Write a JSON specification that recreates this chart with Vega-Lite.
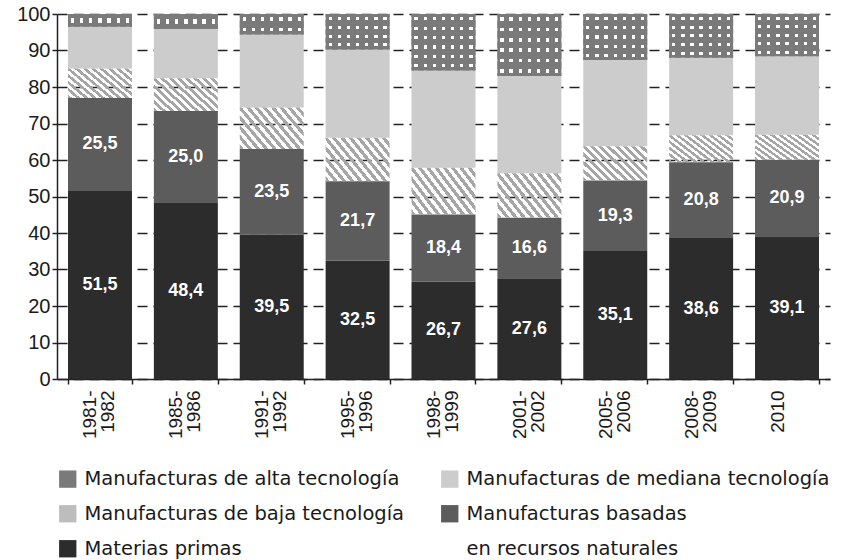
{
  "$schema": "https://vega.github.io/schema/vega-lite/v6.json",
  "width": 773,
  "height": 365,
  "autosize": {"type": "none"},
  "padding": {"left": 57, "top": 14, "right": 14, "bottom": 181},
  "background": "white",
  "config": {
    "view": {"stroke": null},
    "locale": {"number": {"decimal": ",", "thousands": ".", "grouping": [3], "currency": ["", ""]}},
    "axis": {"labelFont": "Liberation Sans", "labelColor": "#1a1a1a", "domainColor": "#222222", "tickColor": "#222222", "title": null},
    "axisY": {
      "tickCount": 10, "labelOverlap": false, "labelFontSize": 20, "labelPadding": 2, "tickSize": 5, "tickWidth": 1.5, "domainWidth": 1.5,
      "grid": true, "gridColor": "#222222", "gridWidth": 1.6, "gridDash": [10, 6]
    },
    "axisX": {
      "labelAngle": -90, "labelFontSize": 19, "labelLineHeight": 18, "labelPadding": 6, "labelOverlap": false, "labelOffset": -10,
      "tickBand": "extent", "tickSize": 5, "tickWidth": 1.5, "domainWidth": 1.5, "grid": false
    }
  },
  "data": {
    "values": [
      {"periodo": "1981-1982", "serie": "Materias primas", "valor": 51.5},
      {"periodo": "1981-1982", "serie": "Manufacturas basadas en recursos naturales", "valor": 25.5},
      {"periodo": "1981-1982", "serie": "Manufacturas de baja tecnología", "valor": 8.1},
      {"periodo": "1981-1982", "serie": "Manufacturas de mediana tecnología", "valor": 11.4},
      {"periodo": "1981-1982", "serie": "Manufacturas de alta tecnología", "valor": 3.5},
      {"periodo": "1985-1986", "serie": "Materias primas", "valor": 48.4},
      {"periodo": "1985-1986", "serie": "Manufacturas basadas en recursos naturales", "valor": 25.0},
      {"periodo": "1985-1986", "serie": "Manufacturas de baja tecnología", "valor": 9.0},
      {"periodo": "1985-1986", "serie": "Manufacturas de mediana tecnología", "valor": 13.5},
      {"periodo": "1985-1986", "serie": "Manufacturas de alta tecnología", "valor": 4.1},
      {"periodo": "1991-1992", "serie": "Materias primas", "valor": 39.5},
      {"periodo": "1991-1992", "serie": "Manufacturas basadas en recursos naturales", "valor": 23.5},
      {"periodo": "1991-1992", "serie": "Manufacturas de baja tecnología", "valor": 11.4},
      {"periodo": "1991-1992", "serie": "Manufacturas de mediana tecnología", "valor": 20.0},
      {"periodo": "1991-1992", "serie": "Manufacturas de alta tecnología", "valor": 5.6},
      {"periodo": "1995-1996", "serie": "Materias primas", "valor": 32.5},
      {"periodo": "1995-1996", "serie": "Manufacturas basadas en recursos naturales", "valor": 21.7},
      {"periodo": "1995-1996", "serie": "Manufacturas de baja tecnología", "valor": 11.9},
      {"periodo": "1995-1996", "serie": "Manufacturas de mediana tecnología", "valor": 24.2},
      {"periodo": "1995-1996", "serie": "Manufacturas de alta tecnología", "valor": 9.7},
      {"periodo": "1998-1999", "serie": "Materias primas", "valor": 26.7},
      {"periodo": "1998-1999", "serie": "Manufacturas basadas en recursos naturales", "valor": 18.4},
      {"periodo": "1998-1999", "serie": "Manufacturas de baja tecnología", "valor": 12.8},
      {"periodo": "1998-1999", "serie": "Manufacturas de mediana tecnología", "valor": 26.6},
      {"periodo": "1998-1999", "serie": "Manufacturas de alta tecnología", "valor": 15.5},
      {"periodo": "2001-2002", "serie": "Materias primas", "valor": 27.6},
      {"periodo": "2001-2002", "serie": "Manufacturas basadas en recursos naturales", "valor": 16.6},
      {"periodo": "2001-2002", "serie": "Manufacturas de baja tecnología", "valor": 12.2},
      {"periodo": "2001-2002", "serie": "Manufacturas de mediana tecnología", "valor": 26.6},
      {"periodo": "2001-2002", "serie": "Manufacturas de alta tecnología", "valor": 17.0},
      {"periodo": "2005-2006", "serie": "Materias primas", "valor": 35.1},
      {"periodo": "2005-2006", "serie": "Manufacturas basadas en recursos naturales", "valor": 19.3},
      {"periodo": "2005-2006", "serie": "Manufacturas de baja tecnología", "valor": 9.4},
      {"periodo": "2005-2006", "serie": "Manufacturas de mediana tecnología", "valor": 23.6},
      {"periodo": "2005-2006", "serie": "Manufacturas de alta tecnología", "valor": 12.6},
      {"periodo": "2008-2009", "serie": "Materias primas", "valor": 38.6},
      {"periodo": "2008-2009", "serie": "Manufacturas basadas en recursos naturales", "valor": 20.8},
      {"periodo": "2008-2009", "serie": "Manufacturas de baja tecnología", "valor": 7.4},
      {"periodo": "2008-2009", "serie": "Manufacturas de mediana tecnología", "valor": 21.2},
      {"periodo": "2008-2009", "serie": "Manufacturas de alta tecnología", "valor": 12.0},
      {"periodo": "2010", "serie": "Materias primas", "valor": 39.1},
      {"periodo": "2010", "serie": "Manufacturas basadas en recursos naturales", "valor": 20.9},
      {"periodo": "2010", "serie": "Manufacturas de baja tecnología", "valor": 6.9},
      {"periodo": "2010", "serie": "Manufacturas de mediana tecnología", "valor": 21.5},
      {"periodo": "2010", "serie": "Manufacturas de alta tecnología", "valor": 11.6}
    ]
  },
  "transform": [
    {"calculate": "indexof(['Materias primas','Manufacturas basadas en recursos naturales','Manufacturas de baja tecnología','Manufacturas de mediana tecnología','Manufacturas de alta tecnología'], datum.serie)", "as": "orden"},
    {"stack": "valor", "groupby": ["periodo"], "sort": [{"field": "orden", "order": "ascending"}], "as": ["y0", "y1"]},
    {"calculate": "(datum.y0 + datum.y1) / 2", "as": "ymid"}
  ],
  "encoding": {
    "x": {
      "field": "periodo", "type": "nominal", "sort": null, "title": null,
      "scale": {"paddingInner": 0.255, "paddingOuter": 0.128},
      "axis": {
        "labelExpr": "length(datum.label) > 4 ? [slice(datum.label, 0, 5), slice(datum.label, 5)] : datum.label"
      }
    }
  },
  "layer": [
    {
      "mark": {"type": "bar", "strokeWidth": 0},
      "encoding": {
        "y": {"field": "y0", "type": "quantitative", "title": null, "scale": {"domain": [0, 100], "nice": false}},
        "y2": {"field": "y1"},
        "color": {
          "field": "serie", "type": "nominal",
          "scale": {
            "domain": ["Manufacturas de alta tecnología", "Manufacturas de mediana tecnología", "Manufacturas de baja tecnología", "Manufacturas basadas en recursos naturales", "Materias primas", "en recursos naturales"],
            "range": ["#7a7a7a", "#cccccc", "#bdbdbd", "#5c5c5c", "#2c2c2c", "rgba(255,255,255,0)"]
          },
          "legend": {
            "title": null, "orient": "none", "legendX": 1, "legendY": 455, "direction": "horizontal", "columns": 2,
            "symbolType": "square", "symbolSize": 300, "symbolStrokeWidth": 0, "labelOffset": 7,
            "labelFont": "DejaVu Sans", "labelFontSize": 19.5, "labelColor": "#1a1a1a", "labelLimit": 500,
            "columnPadding": 35, "rowPadding": 14, "padding": 0,
            "labelExpr": "datum.label == 'Manufacturas basadas en recursos naturales' ? 'Manufacturas basadas' : datum.label"
          }
        },
        "opacity": {"condition": {"test": "datum.serie == 'Manufacturas de baja tecnología'", "value": 0}, "value": 1}
      }
    },
    {
      "transform": [{"filter": "datum.serie == 'Manufacturas de baja tecnología'"}],
      "mark": {"type": "bar", "strokeWidth": 0, "fill": {"gradient": "linear", "x1": 0, "y1": 1, "x2": 1.19, "y2": 0.345, "stops": [
        {"offset": 0, "color": "#a6a6a6"}, {"offset": 0.0417, "color": "#a6a6a6"}, {"offset": 0.0417, "color": "rgba(255,255,255,0)"}, {"offset": 0.0833, "color": "rgba(255,255,255,0)"},
        {"offset": 0.0833, "color": "#a6a6a6"}, {"offset": 0.125, "color": "#a6a6a6"}, {"offset": 0.125, "color": "rgba(255,255,255,0)"}, {"offset": 0.1667, "color": "rgba(255,255,255,0)"},
        {"offset": 0.1667, "color": "#a6a6a6"}, {"offset": 0.2083, "color": "#a6a6a6"}, {"offset": 0.2083, "color": "rgba(255,255,255,0)"}, {"offset": 0.25, "color": "rgba(255,255,255,0)"},
        {"offset": 0.25, "color": "#a6a6a6"}, {"offset": 0.2917, "color": "#a6a6a6"}, {"offset": 0.2917, "color": "rgba(255,255,255,0)"}, {"offset": 0.3333, "color": "rgba(255,255,255,0)"},
        {"offset": 0.3333, "color": "#a6a6a6"}, {"offset": 0.375, "color": "#a6a6a6"}, {"offset": 0.375, "color": "rgba(255,255,255,0)"}, {"offset": 0.4167, "color": "rgba(255,255,255,0)"},
        {"offset": 0.4167, "color": "#a6a6a6"}, {"offset": 0.4583, "color": "#a6a6a6"}, {"offset": 0.4583, "color": "rgba(255,255,255,0)"}, {"offset": 0.5, "color": "rgba(255,255,255,0)"},
        {"offset": 0.5, "color": "#a6a6a6"}, {"offset": 0.5417, "color": "#a6a6a6"}, {"offset": 0.5417, "color": "rgba(255,255,255,0)"}, {"offset": 0.5833, "color": "rgba(255,255,255,0)"},
        {"offset": 0.5833, "color": "#a6a6a6"}, {"offset": 0.625, "color": "#a6a6a6"}, {"offset": 0.625, "color": "rgba(255,255,255,0)"}, {"offset": 0.6667, "color": "rgba(255,255,255,0)"},
        {"offset": 0.6667, "color": "#a6a6a6"}, {"offset": 0.7083, "color": "#a6a6a6"}, {"offset": 0.7083, "color": "rgba(255,255,255,0)"}, {"offset": 0.75, "color": "rgba(255,255,255,0)"},
        {"offset": 0.75, "color": "#a6a6a6"}, {"offset": 0.7917, "color": "#a6a6a6"}, {"offset": 0.7917, "color": "rgba(255,255,255,0)"}, {"offset": 0.8333, "color": "rgba(255,255,255,0)"},
        {"offset": 0.8333, "color": "#a6a6a6"}, {"offset": 0.875, "color": "#a6a6a6"}, {"offset": 0.875, "color": "rgba(255,255,255,0)"}, {"offset": 0.9167, "color": "rgba(255,255,255,0)"},
        {"offset": 0.9167, "color": "#a6a6a6"}, {"offset": 0.9583, "color": "#a6a6a6"}, {"offset": 0.9583, "color": "rgba(255,255,255,0)"}, {"offset": 1, "color": "rgba(255,255,255,0)"}
      ]}},
      "encoding": {"y": {"field": "y0", "type": "quantitative"}, "y2": {"field": "y1"}}
    },
    {
      "transform": [{"filter": "datum.serie == 'Manufacturas de alta tecnología'"}],
      "mark": {"type": "bar", "strokeWidth": 0, "fill": {"gradient": "linear", "x1": 0, "y1": 0, "x2": 1, "y2": 0, "stops": [
        {"offset": 0, "color": "rgba(255,255,255,0)"}, {"offset": 0.0457, "color": "rgba(255,255,255,0)"}, {"offset": 0.0457, "color": "#ffffff"}, {"offset": 0.0971, "color": "#ffffff"}, {"offset": 0.0971, "color": "rgba(255,255,255,0)"},
        {"offset": 0.1886, "color": "rgba(255,255,255,0)"}, {"offset": 0.1886, "color": "#ffffff"}, {"offset": 0.24, "color": "#ffffff"}, {"offset": 0.24, "color": "rgba(255,255,255,0)"},
        {"offset": 0.3314, "color": "rgba(255,255,255,0)"}, {"offset": 0.3314, "color": "#ffffff"}, {"offset": 0.3829, "color": "#ffffff"}, {"offset": 0.3829, "color": "rgba(255,255,255,0)"},
        {"offset": 0.4743, "color": "rgba(255,255,255,0)"}, {"offset": 0.4743, "color": "#ffffff"}, {"offset": 0.5257, "color": "#ffffff"}, {"offset": 0.5257, "color": "rgba(255,255,255,0)"},
        {"offset": 0.6171, "color": "rgba(255,255,255,0)"}, {"offset": 0.6171, "color": "#ffffff"}, {"offset": 0.6686, "color": "#ffffff"}, {"offset": 0.6686, "color": "rgba(255,255,255,0)"},
        {"offset": 0.76, "color": "rgba(255,255,255,0)"}, {"offset": 0.76, "color": "#ffffff"}, {"offset": 0.8114, "color": "#ffffff"}, {"offset": 0.8114, "color": "rgba(255,255,255,0)"},
        {"offset": 0.9029, "color": "rgba(255,255,255,0)"}, {"offset": 0.9029, "color": "#ffffff"}, {"offset": 0.9543, "color": "#ffffff"}, {"offset": 0.9543, "color": "rgba(255,255,255,0)"}, {"offset": 1, "color": "rgba(255,255,255,0)"}
      ]}},
      "encoding": {"y": {"field": "y0", "type": "quantitative"}, "y2": {"field": "y1"}}
    },
    {
      "transform": [{"filter": "datum.serie == 'Manufacturas de alta tecnología' && datum.valor < 5"}],
      "mark": {"type": "bar", "strokeWidth": 0, "fill": {"gradient": "linear", "x1": 0, "y1": 0, "x2": 0, "y2": 1, "stops": [
        {"offset": 0, "color": "#7a7a7a"}, {"offset": 0.33, "color": "#7a7a7a"}, {"offset": 0.33, "color": "rgba(122,122,122,0)"}, {"offset": 0.67, "color": "rgba(122,122,122,0)"}, {"offset": 0.67, "color": "#7a7a7a"}, {"offset": 1, "color": "#7a7a7a"}
      ]}},
      "encoding": {"y": {"field": "y0", "type": "quantitative"}, "y2": {"field": "y1"}}
    },
    {
      "transform": [{"filter": "datum.serie == 'Manufacturas de alta tecnología' && datum.valor >= 5 && datum.valor < 8"}],
      "mark": {"type": "bar", "strokeWidth": 0, "fill": {"gradient": "linear", "x1": 0, "y1": 0, "x2": 0, "y2": 1, "stops": [
        {"offset": 0, "color": "#7a7a7a"}, {"offset": 0.165, "color": "#7a7a7a"}, {"offset": 0.165, "color": "rgba(122,122,122,0)"}, {"offset": 0.335, "color": "rgba(122,122,122,0)"}, {"offset": 0.335, "color": "#7a7a7a"},
        {"offset": 0.665, "color": "#7a7a7a"}, {"offset": 0.665, "color": "rgba(122,122,122,0)"}, {"offset": 0.835, "color": "rgba(122,122,122,0)"}, {"offset": 0.835, "color": "#7a7a7a"}, {"offset": 1, "color": "#7a7a7a"}
      ]}},
      "encoding": {"y": {"field": "y0", "type": "quantitative"}, "y2": {"field": "y1"}}
    },
    {
      "transform": [{"filter": "datum.serie == 'Manufacturas de alta tecnología' && datum.valor >= 8 && datum.valor < 11"}],
      "mark": {"type": "bar", "strokeWidth": 0, "fill": {"gradient": "linear", "x1": 0, "y1": 0, "x2": 0, "y2": 1, "stops": [
        {"offset": 0, "color": "#7a7a7a"}, {"offset": 0.0825, "color": "#7a7a7a"}, {"offset": 0.0825, "color": "rgba(122,122,122,0)"}, {"offset": 0.1675, "color": "rgba(122,122,122,0)"}, {"offset": 0.1675, "color": "#7a7a7a"},
        {"offset": 0.3325, "color": "#7a7a7a"}, {"offset": 0.3325, "color": "rgba(122,122,122,0)"}, {"offset": 0.4175, "color": "rgba(122,122,122,0)"}, {"offset": 0.4175, "color": "#7a7a7a"},
        {"offset": 0.5825, "color": "#7a7a7a"}, {"offset": 0.5825, "color": "rgba(122,122,122,0)"}, {"offset": 0.6675, "color": "rgba(122,122,122,0)"}, {"offset": 0.6675, "color": "#7a7a7a"},
        {"offset": 0.8325, "color": "#7a7a7a"}, {"offset": 0.8325, "color": "rgba(122,122,122,0)"}, {"offset": 0.9175, "color": "rgba(122,122,122,0)"}, {"offset": 0.9175, "color": "#7a7a7a"}, {"offset": 1, "color": "#7a7a7a"}
      ]}},
      "encoding": {"y": {"field": "y0", "type": "quantitative"}, "y2": {"field": "y1"}}
    },
    {
      "transform": [{"filter": "datum.serie == 'Manufacturas de alta tecnología' && datum.valor >= 11 && datum.valor < 14"}],
      "mark": {"type": "bar", "strokeWidth": 0, "fill": {"gradient": "linear", "x1": 0, "y1": 0, "x2": 0, "y2": 1, "stops": [
        {"offset": 0, "color": "#7a7a7a"}, {"offset": 0.066, "color": "#7a7a7a"}, {"offset": 0.066, "color": "rgba(122,122,122,0)"}, {"offset": 0.134, "color": "rgba(122,122,122,0)"}, {"offset": 0.134, "color": "#7a7a7a"},
        {"offset": 0.266, "color": "#7a7a7a"}, {"offset": 0.266, "color": "rgba(122,122,122,0)"}, {"offset": 0.334, "color": "rgba(122,122,122,0)"}, {"offset": 0.334, "color": "#7a7a7a"},
        {"offset": 0.466, "color": "#7a7a7a"}, {"offset": 0.466, "color": "rgba(122,122,122,0)"}, {"offset": 0.534, "color": "rgba(122,122,122,0)"}, {"offset": 0.534, "color": "#7a7a7a"},
        {"offset": 0.666, "color": "#7a7a7a"}, {"offset": 0.666, "color": "rgba(122,122,122,0)"}, {"offset": 0.734, "color": "rgba(122,122,122,0)"}, {"offset": 0.734, "color": "#7a7a7a"},
        {"offset": 0.866, "color": "#7a7a7a"}, {"offset": 0.866, "color": "rgba(122,122,122,0)"}, {"offset": 0.934, "color": "rgba(122,122,122,0)"}, {"offset": 0.934, "color": "#7a7a7a"}, {"offset": 1, "color": "#7a7a7a"}
      ]}},
      "encoding": {"y": {"field": "y0", "type": "quantitative"}, "y2": {"field": "y1"}}
    },
    {
      "transform": [{"filter": "datum.serie == 'Manufacturas de alta tecnología' && datum.valor >= 14"}],
      "mark": {"type": "bar", "strokeWidth": 0, "fill": {"gradient": "linear", "x1": 0, "y1": 0, "x2": 0, "y2": 1, "stops": [
        {"offset": 0, "color": "#7a7a7a"}, {"offset": 0.055, "color": "#7a7a7a"}, {"offset": 0.055, "color": "rgba(122,122,122,0)"}, {"offset": 0.1117, "color": "rgba(122,122,122,0)"}, {"offset": 0.1117, "color": "#7a7a7a"},
        {"offset": 0.2217, "color": "#7a7a7a"}, {"offset": 0.2217, "color": "rgba(122,122,122,0)"}, {"offset": 0.2783, "color": "rgba(122,122,122,0)"}, {"offset": 0.2783, "color": "#7a7a7a"},
        {"offset": 0.3883, "color": "#7a7a7a"}, {"offset": 0.3883, "color": "rgba(122,122,122,0)"}, {"offset": 0.445, "color": "rgba(122,122,122,0)"}, {"offset": 0.445, "color": "#7a7a7a"},
        {"offset": 0.555, "color": "#7a7a7a"}, {"offset": 0.555, "color": "rgba(122,122,122,0)"}, {"offset": 0.6117, "color": "rgba(122,122,122,0)"}, {"offset": 0.6117, "color": "#7a7a7a"},
        {"offset": 0.7217, "color": "#7a7a7a"}, {"offset": 0.7217, "color": "rgba(122,122,122,0)"}, {"offset": 0.7783, "color": "rgba(122,122,122,0)"}, {"offset": 0.7783, "color": "#7a7a7a"},
        {"offset": 0.8883, "color": "#7a7a7a"}, {"offset": 0.8883, "color": "rgba(122,122,122,0)"}, {"offset": 0.945, "color": "rgba(122,122,122,0)"}, {"offset": 0.945, "color": "#7a7a7a"}, {"offset": 1, "color": "#7a7a7a"}
      ]}},
      "encoding": {"y": {"field": "y0", "type": "quantitative"}, "y2": {"field": "y1"}}
    },
    {
      "transform": [{"filter": "datum.serie == 'Materias primas' || datum.serie == 'Manufacturas basadas en recursos naturales'"}],
      "mark": {"type": "text", "color": "white", "font": "Liberation Sans", "fontWeight": "bold", "fontSize": 18, "baseline": "middle", "align": "center"},
      "encoding": {
        "y": {"field": "ymid", "type": "quantitative"},
        "text": {"field": "valor", "type": "quantitative", "format": ".1f"}
      }
    }
  ]
}
